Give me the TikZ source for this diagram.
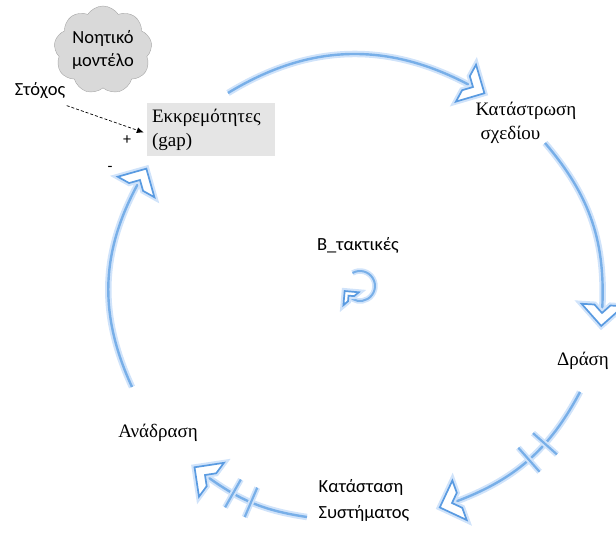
\documentclass[tikz,border=0pt]{standalone}
\usepackage{fontspec}
\setmainfont{Liberation Serif}
\newfontfamily\calib{Carlito}
\usetikzlibrary{shapes.symbols,decorations.markings,arrows.meta}

\definecolor{lineblue}{RGB}{120,175,232}
\definecolor{glowblue}{RGB}{208,227,250}
\definecolor{chevblue}{RGB}{90,155,225}
\definecolor{boxgray}{RGB}{229,229,229}
\definecolor{cloudgray}{RGB}{217,217,217}

% hollow chevron head: #1 reach of the arms, #2 thickness; inner vertex at the origin
\newcommand\drawchev[2]{%
  \draw[line width=6pt,glowblue,line join=miter]
    (#2,0) -- ({#2-#1},#1) -- ({#2-#1},{#1-#2}) -- (0,0) -- ({#2-#1},{#2-#1}) -- ({#2-#1},-#1) -- cycle;
  \filldraw[fill=white,draw=chevblue,line width=1.7pt,line join=miter]
    (#2,0) -- ({#2-#1},#1) -- ({#2-#1},{#1-#2}) -- (0,0) -- ({#2-#1},{#2-#1}) -- ({#2-#1},-#1) -- cycle;}

\tikzset{
  serifl/.style={font=\fontsize{19}{24}\selectfont},
  sansl/.style={font=\calib\fontsize{18.5}{26}\selectfont},
  loopline/.style={draw=lineblue,line width=2.4pt,
    preaction={draw=glowblue,line width=6.5pt},
    postaction={decorate,decoration={markings,mark=at position 1 with {\drawchev{21}{13}}}}},
  smallloop/.style={draw=lineblue,line width=2pt,
    preaction={draw=glowblue,line width=5.5pt},
    postaction={decorate,decoration={markings,mark=at position 1 with {\drawchev{10}{6}}}}},
  delaymark/.style={postaction={decorate,decoration={markings,mark=at position #1 with {
    \draw[lineblue,line width=2.2pt,preaction={draw=glowblue,line width=6pt}] (0,-16) -- (0,16);}}}},
  gapbox/.style={rectangle,fill=boxgray,minimum width=128pt,minimum height=53pt,
    text width=118pt,align=left,inner sep=0pt},
}

\begin{document}
\begin{tikzpicture}[x=1pt,y=1pt]
\useasboundingbox (0,0) rectangle (616,-540);

% texts
\node[cloud,cloud puffs=9,cloud puff arc=115,aspect=1.15,fill=cloudgray,draw=gray!70,
  minimum width=98pt,minimum height=88pt,inner sep=0pt,align=center,
  font=\calib\fontsize{18.5}{23}\selectfont] (mind) at (103,-50) {Νοητικό\\μοντέλο};
\node[sansl] (goal) at (40,-91) {Στόχος};
\node[gapbox,serifl] (gap) at (211,-129.5) {Εκκρεμότητες\\(gap)};
\node[font=\calib\fontsize{16}{18}\selectfont] (plus) at (127,-140) {+};
\node[font=\calib\fontsize{16}{18}\selectfont] (minus) at (110,-169) {-};
\node[serifl,align=left] (plan) at (526,-123) {Κατάστρωση\\\hspace*{5pt}σχεδίου};
\node[serifl] (action) at (583,-361) {Δράση};
\node[sansl,align=left] (state) at (364,-500) {Κατάσταση\\Συστήματος};
\node[serifl] (feedback) at (158,-433) {Ανάδραση};
\node[sansl] (loopname) at (358,-245) {B\_τακτικές};

% connector end points
\coordinate (a1s) at (228,-93);  \coordinate (a1e) at (473,-87);
\coordinate (a2s) at (545,-143); \coordinate (a2e) at (602,-313);
\coordinate (a3s) at (580,-392); \coordinate (a3e) at (452,-503);
\coordinate (a4s) at (307,-517); \coordinate (a4e) at (205,-475);
\coordinate (a5s) at (132,-387); \coordinate (a5e) at (140,-180);
\coordinate (lc) at (360,-286);

% balancing loop
\draw[loopline] (a1s) to[bend left=30] (a1e);
\draw[loopline] (a2s) to[bend left=22] (a2e);
\draw[loopline,delaymark=0.36,delaymark=0.49] (a3s) to[bend left=21] (a3e);
\draw[loopline,delaymark=0.52,delaymark=0.70] (a4s) to[bend left=14] (a4e);
\draw[loopline] (a5s) to[bend left=27] (a5e);

% loop symbol
\draw[smallloop] ([shift={(120:15)}]lc) arc[start angle=120,end angle=-140,radius=15];

% goal into the gap
\draw[dashed,dash pattern=on 3pt off 2pt,line width=0.7pt,-{Latex[length=7pt,width=6pt]}]
  ([xshift=-2pt,yshift=-3pt]goal.south east) -- ([xshift=-3pt,yshift=-3pt]gap.west);
\end{tikzpicture}
\end{document}
